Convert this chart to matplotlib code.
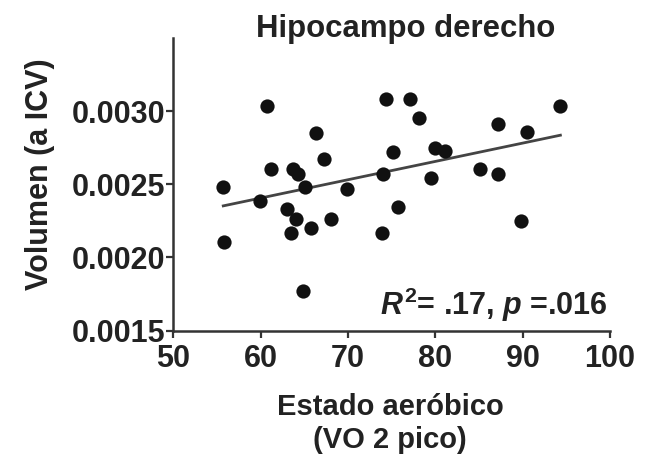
import numpy as np
import matplotlib
matplotlib.use("Agg")
import matplotlib.pyplot as plt

# ---- data ----
vo2_peak = [60.69, 74.34, 66.29, 75.17, 67.24, 61.21, 63.73, 64.30, 73.96, 55.72,
            65.07, 69.87, 59.92, 62.97, 64.00, 68.04, 75.74, 65.72, 63.43, 73.84,
            55.84, 64.87, 77.08, 94.32, 78.15, 87.19, 90.50, 80.02, 81.08, 85.17,
            87.12, 79.45, 89.86]
volume_icv = [0.003033, 0.003086, 0.002853, 0.002722, 0.002671, 0.002602, 0.002602, 0.002572,
              0.002572, 0.002480, 0.002484, 0.002468, 0.002387, 0.002330, 0.002261, 0.002261,
              0.002342, 0.002198, 0.002169, 0.002169, 0.002107, 0.001770, 0.003086, 0.003033,
              0.002952, 0.002913, 0.002855, 0.002745, 0.002726, 0.002607, 0.002572, 0.002542,
              0.002249]
x_ticks = [50, 60, 70, 80, 90, 100]
y_ticks = [0.0015, 0.0020, 0.0025, 0.0030]
y_tick_labels = ["0.0015", "0.0020", "0.0025", "0.0030"]
title = "Hipocampo derecho"
x_label = "Estado aeróbico\n(VO 2 pico)"
y_label = "Volumen (a ICV)"
stats_text = r"$R^2$= .17, $p$ =.016"

plt.rcParams['font.family'] = ['Liberation Sans', 'DejaVu Sans']
plt.rcParams['font.weight'] = 'bold'
plt.rcParams['mathtext.fontset'] = 'custom'
plt.rcParams['mathtext.it'] = 'Liberation Sans:italic:bold'
plt.rcParams['mathtext.rm'] = 'Liberation Sans:bold'
plt.rcParams['mathtext.bf'] = 'Liberation Sans:bold'

txt = '#222222'

fig = plt.figure(figsize=(6.52, 4.62), dpi=100)
W, H = 652, 462
left, right, top, bottom = 173.3, 610, 38, 330.5
ax = fig.add_axes([left / W, 1 - bottom / H, (right - left) / W, (bottom - top) / H])

x = np.array(vo2_peak)
y = np.array(volume_icv)
ax.scatter(x, y, s=105, color='#111111', zorder=3, linewidths=0)

slope, intercept = np.polyfit(x, y, 1)
xs = np.array([x.min(), x.max()])
ax.plot(xs, slope * xs + intercept, color='#444444', lw=2.0, zorder=2)

ax.set_xlim(50, 100)
ax.set_ylim(0.0015, 0.0035)
ax.set_xticks(x_ticks)
ax.set_yticks(y_ticks)
ax.set_yticklabels(y_tick_labels)
for s in ['top', 'right']:
    ax.spines[s].set_visible(False)
for s in ['left', 'bottom']:
    ax.spines[s].set_linewidth(1.8)
    ax.spines[s].set_color('#333333')
ax.tick_params(axis='both', direction='out', length=5, width=1.6, color='#333333',
               labelsize=22, labelcolor=txt)
ax.tick_params(axis='x', pad=5)
ax.tick_params(axis='y', pad=1)

ax.set_xlabel(x_label, fontsize=21, fontweight='bold', color=txt, linespacing=1.22,
              va='baseline')
ax.xaxis.set_label_coords((390 - left) / (right - left), (bottom - 448) / (bottom - top))
ax.set_ylabel(y_label, fontsize=22, fontweight='bold', color=txt, va='center')
ax.yaxis.set_label_coords((40 - left) / (right - left), (bottom - 174) / (bottom - top))

fig.text(406 / W, 1 - 37 / H, title, ha='center', va='baseline', fontsize=22.4,
         fontweight='bold', color=txt)

ax.text((608 - left) / (right - left), (bottom - 315.5) / (bottom - top), stats_text,
        transform=ax.transAxes, ha='right', va='baseline', fontsize=22,
        fontweight='bold', color=txt)

fig.savefig('out.png', dpi=100)
